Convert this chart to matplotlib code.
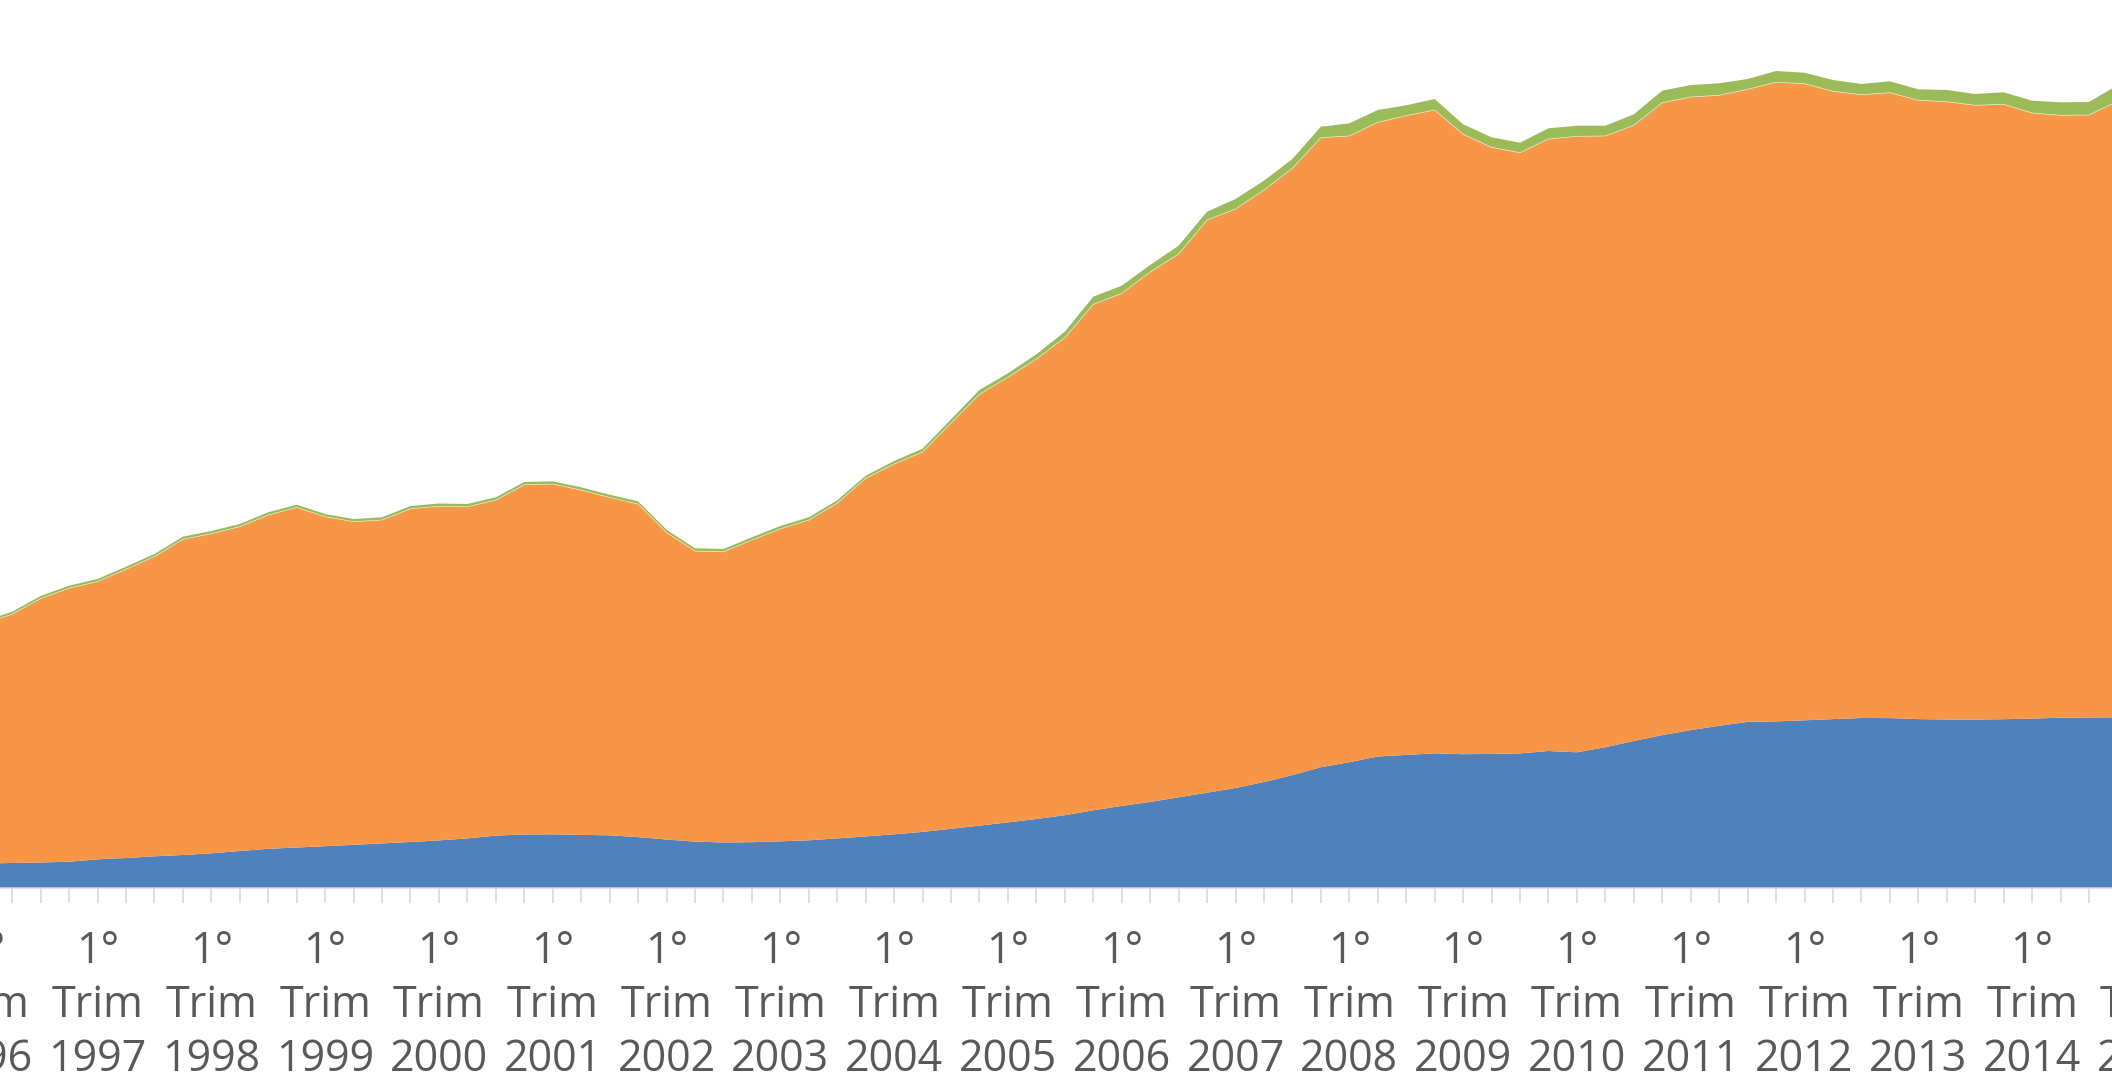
import numpy as np
import matplotlib.pyplot as plt

## Categorias: trimestres do 1° Trim 1996 ao 4° Trim 2014
trimestres = [f"{t}° Trim {a}" for a in range(1996, 2015) for t in range(1, 5)]
## Rótulos do eixo (só o 1° trimestre de cada ano)
anos = list(range(1996, 2016))

## Séries empilhadas (unidade arbitrária)
azul = [24.5, 25.0, 25.5, 26.3, 28.7, 30.0, 31.7, 33.0, 34.7, 37.0,
        39.2, 40.5, 41.8, 43.2, 44.6, 46.0, 47.6, 49.6, 52.4, 53.5,
        53.7, 53.1, 52.7, 50.9, 48.5, 46.4, 45.5, 45.8, 46.7, 47.7,
        49.6, 51.6, 53.7, 56.1, 59.2, 62.4, 65.6, 69.0, 72.8, 77.7,
        82.1, 86.1, 90.7, 95.3, 100.0, 106.0, 112.9, 120.8, 125.8, 131.5,
        133.1, 134.7, 133.8, 134.1, 134.6, 137.0, 135.7, 140.8, 147.0, 152.9,
        157.9, 162.2, 166.1, 166.6, 167.7, 168.9, 170.0, 169.9, 168.9, 168.5,
        168.4, 168.8, 169.4, 170.3, 170.5, 170.7]

laranja = [240.0, 248.8, 264.0, 273.5, 277.7, 288.7, 299.7, 315.6, 319.6, 324.3,
           333.8, 340.1, 329.5, 323.1, 323.4, 333.2, 334.1, 331.6, 335.5, 349.7,
           350.2, 344.8, 337.8, 333.0, 307.0, 290.5, 290.7, 302.1, 312.5, 320.2,
           335.3, 358.0, 370.3, 379.9, 405.7, 431.3, 445.1, 460.0, 477.5, 505.9,
           512.5, 529.9, 543.3, 572.7, 579.0, 592.0, 606.8, 629.5, 626.2, 634.2,
           639.2, 643.3, 619.9, 606.6, 600.7, 612.0, 616.0, 611.2, 615.7, 632.4,
           633.1, 630.5, 632.6, 639.1, 636.6, 627.8, 623.3, 625.4, 618.8, 617.8,
           614.3, 614.9, 605.6, 602.4, 602.5, 616.1]

verde = [2.5, 2.5, 2.5, 2.5, 2.6, 2.6, 2.6, 2.7, 2.7, 2.7,
         2.7, 2.7, 2.7, 2.7, 2.7, 2.8, 2.8, 2.8, 2.8, 2.8,
         2.8, 2.8, 2.8, 2.8, 2.8, 2.8, 2.8, 2.8, 2.8, 2.8,
         2.8, 2.7, 3.0, 3.3, 3.8, 4.3, 4.0, 4.7, 6.0, 7.7,
         7.7, 7.0, 8.3, 8.3, 10.0, 9.3, 9.3, 11.0, 12.7, 12.3,
         10.4, 11.0, 10.0, 10.0, 10.0, 10.7, 10.6, 10.3, 11.0, 12.0,
         12.0, 12.0, 10.3, 11.3, 11.0, 11.3, 10.7, 11.4, 11.0, 11.7,
         11.3, 12.0, 12.3, 13.0, 13.0, 15.9]

cores = ['#4F81BD', '#F79646', '#9BBB59']
cinza = '#D9D9D9'
texto = '#595959'

x = np.arange(len(trimestres))

## O gráfico original está cortado nas bordas: o eixo passa um pouco
## para fora da figura dos dois lados
W, H = 2112, 1078
passo = 28.45      # px por trimestre
x0 = -16.3         # px do 1° Trim 1996
base = 888         # px (de cima) da linha do eixo
xmin, xmax = -0.6, 76.6
left = (x0 + xmin * passo) / W
width = (xmax - xmin) * passo / W

fig = plt.figure(figsize=(W / 100, H / 100), dpi=100)
ax = fig.add_axes([left, (H - base) / H, width, base / H])

ax.stackplot(x, azul, laranja, verde, colors=cores, linewidth=0)
topo_laranja = np.array(azul) + np.array(laranja)
ax.plot(x, topo_laranja, color='#E2EBCB', lw=0.5)

ax.set_xlim(xmin, xmax)
ax.set_ylim(0, base)

ax.set_xticks(range(0, 77, 4))
ax.set_xticklabels([f"1°\nTrim\n{a}" for a in anos])
ax.set_xticks(range(0, 77), minor=True)
ax.tick_params(axis='x', which='both', length=10.8, width=1.2, color=cinza,
               direction='out', pad=19.4, labelsize=31, labelcolor=texto)
for lab in ax.get_xticklabels():
    lab.set_fontfamily('Open Sans')
    lab.set_linespacing(1.27)

ax.set_yticks([])
for s in ['top', 'left', 'right']:
    ax.spines[s].set_visible(False)
ax.spines['bottom'].set_color(cinza)
ax.spines['bottom'].set_linewidth(1.1)

fig.savefig('out.png', dpi=100)
